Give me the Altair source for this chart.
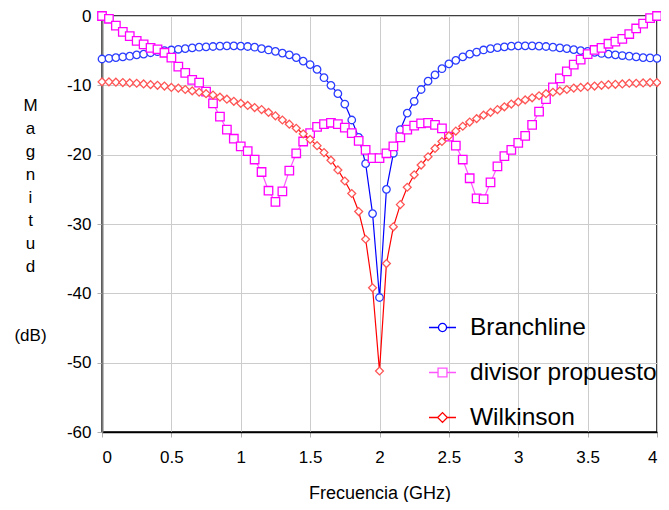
import altair as alt
import pandas as pd

freq = [0.0, 0.05, 0.1, 0.15, 0.2, 0.25, 0.3, 0.35, 0.4, 0.45,
        0.5, 0.55, 0.6, 0.65, 0.7, 0.75, 0.8, 0.85, 0.9, 0.95,
        1.0, 1.05, 1.1, 1.15, 1.2, 1.25, 1.3, 1.35, 1.4, 1.45,
        1.5, 1.55, 1.6, 1.65, 1.7, 1.75, 1.8, 1.85, 1.9, 1.95,
        2.0, 2.05, 2.1, 2.15, 2.2, 2.25, 2.3, 2.35, 2.4, 2.45,
        2.5, 2.55, 2.6, 2.65, 2.7, 2.75, 2.8, 2.85, 2.9, 2.95,
        3.0, 3.05, 3.1, 3.15, 3.2, 3.25, 3.3, 3.35, 3.4, 3.45,
        3.5, 3.55, 3.6, 3.65, 3.7, 3.75, 3.8, 3.85, 3.9, 3.95, 4.0]

branchline = [-6.2, -6.1, -6.0, -5.9, -5.8, -5.6, -5.5, -5.3, -5.15, -5.0,
              -4.9, -4.8, -4.7, -4.6, -4.5, -4.45, -4.4, -4.35, -4.3, -4.3,
              -4.35, -4.4, -4.5, -4.7, -4.9, -5.1, -5.35, -5.6, -6.0, -6.5,
              -7.0, -7.7, -8.9, -10.0, -11.2, -12.7, -15.0, -17.5, -21.3, -28.5,
              -40.6, -25.0, -19.8, -16.4, -14.0, -12.3, -10.6, -9.4, -8.5, -7.6,
              -6.9, -6.4, -5.9, -5.5, -5.2, -4.9, -4.7, -4.55, -4.45, -4.35,
              -4.3, -4.3, -4.3, -4.35, -4.4, -4.5, -4.6, -4.7, -4.85, -5.0,
              -5.1, -5.25, -5.4, -5.5, -5.6, -5.7, -5.8, -5.9, -6.0, -6.05, -6.1]

divisor = [0.0, -0.4, -1.4, -2.3, -2.9, -3.6, -4.1, -4.6, -4.8, -5.3,
           -6.0, -7.3, -8.2, -9.2, -9.6, -10.9, -12.6, -14.5, -16.4, -17.7,
           -18.8, -19.5, -20.7, -22.5, -25.2, -26.8, -25.3, -22.3, -19.8, -18.1,
           -16.9, -16.0, -15.6, -15.4, -15.6, -16.1, -16.9, -18.0, -19.3, -20.5,
           -20.5, -19.8, -18.8, -17.5, -16.4, -15.8, -15.5, -15.4, -15.7, -16.2,
           -17.4, -18.7, -20.7, -23.4, -26.3, -26.4, -24.0, -21.7, -20.2, -19.3,
           -18.3, -17.3, -15.7, -13.8, -12.0, -10.3, -9.0, -8.0, -7.0, -6.3,
           -5.5, -4.9, -4.6, -4.0, -3.7, -3.3, -2.6, -1.8, -1.1, -0.3, 0.0]

wilkinson = [-9.5, -9.5, -9.55, -9.6, -9.65, -9.7, -9.8, -9.9, -10.0, -10.1,
             -10.3, -10.4, -10.6, -10.8, -11.0, -11.2, -11.4, -11.7, -12.0, -12.3,
             -12.6, -12.9, -13.2, -13.5, -13.9, -14.4, -15.0, -15.6, -16.2, -17.0,
             -17.8, -18.7, -19.7, -20.8, -22.2, -23.8, -25.6, -28.2, -32.2, -39.2,
             -51.2, -35.7, -30.4, -27.2, -24.7, -22.9, -21.5, -20.3, -19.1, -18.1,
             -17.3, -16.6, -15.9, -15.3, -14.8, -14.3, -13.9, -13.5, -13.1, -12.7,
             -12.4, -12.1, -11.8, -11.5, -11.2, -11.0, -10.8, -10.6, -10.4, -10.3,
             -10.2, -10.1, -10.0, -9.9, -9.85, -9.8, -9.7, -9.7, -9.65, -9.6, -9.6]

series_names = ["Branchline", "divisor propuesto", "Wilkinson"]
line_colors = ["#0000ff", "#ff55ff", "#ff0000"]
marker_colors = ["#2a3cff", "#ff00ff", "#ff5555"]
shapes = ["circle", "square", "diamond"]
marker_sizes = [56, 72, 62]

x_ticks = [0, 0.5, 1, 1.5, 2, 2.5, 3, 3.5, 4]
y_ticks = [-60, -50, -40, -30, -20, -10, 0]
y_title = ["M", "a", "g", "n", "i", "t", "u", "d", "\u200b", "\u200b", "(dB)"]

legend_paths = [
    "M-1,0H-0.3M0.3,0H1M0.3,0A0.3,0.3 0 1,1 -0.3,0A0.3,0.3 0 1,1 0.3,0Z",
    "M-1,0H-0.33M0.33,0H1M-0.33,-0.33H0.33V0.33H-0.33Z",
    "M-1,0H-0.36M0.36,0H1M-0.36,0L0,-0.36L0.36,0L0,0.36Z",
]

rows = []
for name, vals in zip(series_names, [branchline, divisor, wilkinson]):
    for f, v in zip(freq, vals):
        rows.append({"series": name, "freq": f, "db": v})
df = pd.DataFrame(rows)

FONT = "Liberation Sans"

x_enc = alt.X(
    "freq:Q",
    scale=alt.Scale(domain=[0, 4], nice=False),
    axis=alt.Axis(
        values=x_ticks, format="~g", title="Frecuencia (GHz)",
        labelFontSize=17, labelFont=FONT, labelColor="black", labelPadding=12,
        tickSize=5, tickColor="#b0b0b0", domainColor="black", domainWidth=1.5,
        grid=True, gridColor="#cccccc", gridWidth=1,
        titleFont=FONT, titleFontSize=18, titleFontWeight="normal",
        titleColor="black", titlePadding=19,
    ),
)
y_enc = alt.Y(
    "db:Q",
    scale=alt.Scale(domain=[-60, 0], nice=False),
    axis=alt.Axis(
        values=y_ticks, title=y_title, labelExpr="datum.value + ''",
        labelFontSize=17, labelFont=FONT, labelColor="black", labelPadding=6,
        tickSize=5, tickColor="#b0b0b0", domainColor="#7a7a7a", domainWidth=2,
        grid=True, gridColor="#cccccc", gridWidth=1,
        titleFont=FONT, titleFontSize=17, titleFontWeight="normal", titleColor="black",
        titleAngle=0, titleAlign="center", titleBaseline="middle",
        titleX=-72, titleY=89, titleLineHeight=23,
    ),
)

layers = []
for name, lc, mc, shp, sz in zip(series_names, line_colors, marker_colors, shapes, marker_sizes):
    base = alt.Chart(df).transform_filter(alt.datum.series == name)
    layers.append(base.mark_line(color=lc, strokeWidth=1.2).encode(x=x_enc, y=y_enc))
    layers.append(
        base.mark_point(shape=shp, size=sz, filled=False, fill="white", fillOpacity=1,
                        stroke=mc, strokeWidth=1.3, opacity=1).encode(x=x_enc, y=y_enc)
    )

legend_layer = alt.Chart(df).transform_filter("false").mark_point(
    filled=False, opacity=1, strokeWidth=1.3
).encode(
    color=alt.Color("series:N", scale=alt.Scale(domain=series_names, range=line_colors),
                    legend=alt.Legend(
                        title=None, orient="none", legendX=326, legendY=297,
                        symbolSize=729, symbolStrokeWidth=1.3, symbolFillColor="white",
                        labelFontSize=24.5, labelFont=FONT, labelColor="black",
                        labelOffset=13, rowPadding=19, padding=0,
                        labelLimit=400,
                    )),
    shape=alt.Shape("series:N", scale=alt.Scale(domain=series_names, range=legend_paths)),
)
layers.append(legend_layer)

chart = alt.layer(*layers).properties(
    width=555, height=416,
    autosize=alt.AutoSizeParams(type="none"),
    padding={"left": 94, "top": 8, "right": 4, "bottom": 70},
    background="white",
).configure_view(stroke="black", strokeWidth=1.5).configure_axisY(titleLineHeight=23)

chart.save("out.html", embed_options={"renderer": "svg", "actions": False})
